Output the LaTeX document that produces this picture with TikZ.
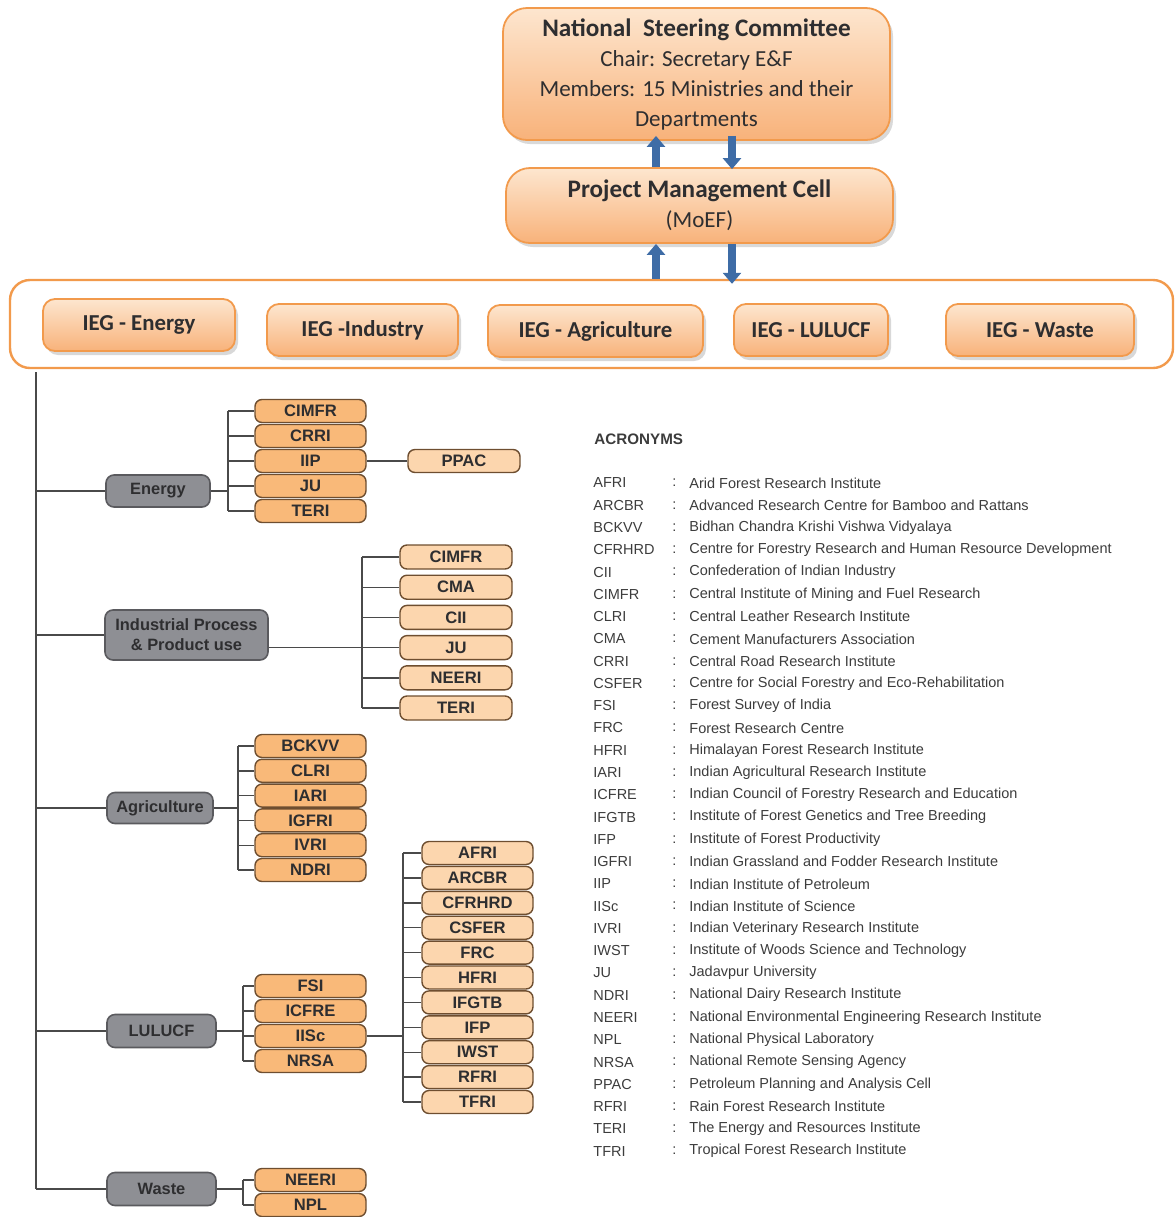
\documentclass[tikz,border=0pt]{standalone}
\usepackage{fontspec}
\setmainfont{Liberation Sans}
\newfontfamily\calibrifont{Carlito}
\usetikzlibrary{positioning,shadows,arrows.meta}
\definecolor{peachtop}{HTML}{FDE6CF}
\definecolor{peachbot}{HTML}{F8B27A}
\definecolor{orangeline}{HTML}{F29A4C}
\definecolor{flowblue}{HTML}{3E6CA6}
\definecolor{groupgray}{HTML}{8E8F94}
\definecolor{groupline}{HTML}{5A5A5E}
\definecolor{grouptext}{HTML}{2E2E30}
\definecolor{instorange}{HTML}{F9B979}
\definecolor{instpeach}{HTML}{FCD6AE}
\definecolor{instline}{HTML}{6E4E30}
\definecolor{linkgray}{HTML}{4A4A4A}
\definecolor{acrtext}{HTML}{3C3C3C}
\newcommand{\headline}[1]{{\bfseries\fontsize{12.6}{15}\selectfont #1}}
\tikzset{
  topbox/.style={draw=orangeline, line width=0.9pt, rounded corners=12pt,
    top color=peachtop, bottom color=peachbot,
    drop shadow={opacity=0.3,shadow xshift=1.5pt,shadow yshift=-2pt},
    align=center, inner sep=0pt, text=grouptext,
    font=\calibrifont\fontsize{11.5}{15}\selectfont},
  iegbox/.style={topbox, rounded corners=6pt, minimum height=26pt,
    font=\calibrifont\bfseries\fontsize{11.4}{12}\selectfont},
  groupbox/.style={draw=groupline, line width=0.8pt, fill=groupgray,
    rounded corners=4pt, text=grouptext, align=center, inner sep=0pt,
    font=\bfseries\fontsize{8.2}{10}\selectfont},
  instbox/.style={draw=instline, line width=0.7pt, fill=instorange,
    rounded corners=3.5pt, minimum width=55.5pt, minimum height=11.5pt,
    inner sep=0pt, text=grouptext, font=\bfseries\fontsize{8.3}{9}\selectfont},
  instlight/.style={instbox, fill=instpeach},
  link/.style={draw=linkgray, line width=0.7pt},
  flowarrow/.style={draw=flowblue, line width=3.6pt,
    -{Triangle[width=9pt,length=5.5pt]}},
  acrentry/.style={anchor=west, inner sep=0pt, text=acrtext,
    font=\fontsize{7.25}{8}\selectfont}
}
\begin{document}
\begin{tikzpicture}[x=0.5pt,y=-0.5pt]
  \useasboundingbox (0,0) rectangle (1175,1217);
  % top of the hierarchy
  \node[topbox, minimum width=193.5pt, minimum height=66pt] (nsc) at (696.5,74)
    {\headline{National\ \ Steering Committee}\\Chair: Secretary E\&F\\
     Members: 15 Ministries and their\\Departments};
  \node[topbox, minimum width=193.5pt, minimum height=37.5pt] (pmc) at (699.5,205.5)
    {\headline{Project Management Cell}\\(MoEF)};
  \node[draw=orangeline, line width=1.2pt, rounded corners=10pt, fill=white,
    minimum width=581.5pt, minimum height=44pt] (iegrow) at (591.5,324) {};
  \node[iegbox, minimum width=96pt] (iegEnergy) at (139,325) {IEG - Energy};
  \node[iegbox, minimum width=95.5pt] (iegIndustry) at (362.5,330) {IEG -Industry};
  \node[iegbox, minimum width=107.5pt] (iegAgri) at (595.5,331) {IEG - Agriculture};
  \node[iegbox, minimum width=77pt] (iegLulucf) at (811,330) {IEG - LULUCF};
  \node[iegbox, minimum width=94pt] (iegWaste) at (1040,330) {IEG - Waste};
  \coordinate (upx) at (656,0);
  \coordinate (downx) at (732,0);
  \draw[flowarrow] (pmc.north -| upx) -- ([yshift=2.5pt]nsc.south -| upx);
  \draw[flowarrow] ([yshift=2.5pt]nsc.south -| downx) -- ([yshift=-1pt]pmc.north -| downx);
  \draw[flowarrow] (iegrow.north -| upx) -- (pmc.south -| upx);
  \draw[flowarrow] (pmc.south -| downx) -- ([yshift=-2.5pt]iegrow.north -| downx);

  % sector groups
  \node[groupbox, minimum width=52pt, minimum height=16pt] (gEnergy) at (158,491) {Energy};
  \node[groupbox, minimum width=81.5pt, minimum height=25pt] (gIndustry) at (186.5,635)
    {Industrial Process\\\&\ Product use};
  \node[groupbox, minimum width=53pt, minimum height=15.5pt] (gAgri) at (160,808) {Agriculture};
  \node[groupbox, minimum width=54.5pt, minimum height=16.5pt] (gLulucf) at (161.5,1031) {LULUCF};
  \node[groupbox, minimum width=54.5pt, minimum height=16.5pt] (gWaste) at (161.5,1189) {Waste};
  \coordinate (trunk) at (36,372);
  \draw[link, line width=0.9pt] (trunk) -- (trunk |- gWaste);
  \foreach \g in {gEnergy,gIndustry,gAgri,gLulucf,gWaste}
    \draw[link] (trunk |- \g) -- (\g.west);

  % energy institutes
  \foreach \lbl [count=\i] in {CIMFR,CRRI,IIP,JU,TERI}
    \node[instbox] (en\i) at (310.5,{411+(\i-1)*25}) {\lbl};
  \coordinate (enbus) at (228,0);
  \draw[link] (enbus |- en1) -- (enbus |- en5);
  \foreach \i in {1,...,5} \draw[link] (enbus |- en\i) -- (en\i.west);
  \draw[link] (gEnergy.east) -- (enbus |- gEnergy);
  \node[instlight, minimum width=56pt] (ppac) at (464,461) {PPAC};
  \draw[link] (en3.east) -- (ppac.west);

  % industry institutes
  \foreach \lbl [count=\i] in {CIMFR,CMA,CII,JU,NEERI,TERI}
    \node[instlight, minimum width=56pt, minimum height=12pt] (in\i) at (456,{557+(\i-1)*30.2}) {\lbl};
  \coordinate (inbus) at (362,0);
  \draw[link] (inbus |- in1) -- (inbus |- in6);
  \foreach \i in {1,...,6} \draw[link] (inbus |- in\i) -- (in\i.west);
  \draw[link] (gIndustry.east |- in4) -- (in4.west);

  % agriculture institutes
  \foreach \lbl [count=\i] in {BCKVV,CLRI,IARI,IGFRI,IVRI,NDRI}
    \node[instbox] (ag\i) at (310.5,{746+(\i-1)*24.8}) {\lbl};
  \coordinate (agbus) at (238,0);
  \draw[link] (agbus |- ag1) -- (agbus |- ag6);
  \foreach \i in {1,...,6} \draw[link] (agbus |- ag\i) -- (ag\i.west);
  \draw[link] (gAgri.east) -- (agbus |- gAgri);

  % LULUCF institutes
  \foreach \lbl [count=\i] in {FSI,ICFRE,IISc,NRSA}
    \node[instbox] (lu\i) at (310.5,{986+(\i-1)*25}) {\lbl};
  \coordinate (lubus) at (243,0);
  \draw[link] (lubus |- lu1) -- (lubus |- lu4);
  \foreach \i in {1,...,4} \draw[link] (lubus |- lu\i) -- (lu\i.west);
  \draw[link] (gLulucf.east) -- (lubus |- gLulucf);
  \foreach \lbl [count=\i] in {AFRI,ARCBR,CFRHRD,CSFER,FRC,HFRI,IFGTB,IFP,IWST,RFRI,TFRI}
    \node[instlight] (fo\i) at (477.5,{853+(\i-1)*24.9}) {\lbl};
  \coordinate (fobus) at (403,0);
  \draw[link] (fobus |- fo1) -- (fobus |- fo11);
  \foreach \i in {1,...,11} \draw[link] (fobus |- fo\i) -- (fo\i.west);
  \draw[link] (lu3.east) -- (fobus |- lu3);

  % waste institutes
  \foreach \lbl [count=\i] in {NEERI,NPL}
    \node[instbox] (wa\i) at (310.5,{1180+(\i-1)*25}) {\lbl};
  \coordinate (wabus) at (243,0);
  \draw[link] (wabus |- wa1) -- (wabus |- wa2);
  \foreach \i in {1,2} \draw[link] (wabus |- wa\i) -- (wa\i.west);
  \draw[link] (gWaste.east) -- (wabus |- gWaste);

  % acronyms
  \node[acrentry, font=\bfseries\fontsize{7.6}{8}\selectfont] (acrhead) at (594,439) {ACRONYMS};
  \foreach \abbr/\desc [count=\i] in {
      AFRI/Arid Forest Research Institute,
      ARCBR/Advanced Research Centre for Bamboo and Rattans,
      BCKVV/Bidhan Chandra Krishi Vishwa Vidyalaya,
      CFRHRD/Centre for Forestry Research and Human Resource Development,
      CII/Confederation of Indian Industry,
      CIMFR/Central Institute of Mining and Fuel Research,
      CLRI/Central Leather Research Institute,
      CMA/Cement Manufacturers Association,
      CRRI/Central Road Research Institute,
      CSFER/Centre for Social Forestry and Eco-Rehabilitation,
      FSI/Forest Survey of India,
      FRC/Forest Research Centre,
      HFRI/Himalayan Forest Research Institute,
      IARI/Indian Agricultural Research Institute,
      ICFRE/Indian Council of Forestry Research and Education,
      IFGTB/Institute of Forest Genetics and Tree Breeding,
      IFP/Institute of Forest Productivity,
      IGFRI/Indian Grassland and Fodder Research Institute,
      IIP/Indian Institute of Petroleum,
      IISc/Indian Institute of Science,
      IVRI/Indian Veterinary Research Institute,
      IWST/Institute of Woods Science and Technology,
      JU/Jadavpur University,
      NDRI/National Dairy Research Institute,
      NEERI/National Environmental Engineering Research Institute,
      NPL/National Physical Laboratory,
      NRSA/National Remote Sensing Agency,
      PPAC/Petroleum Planning and Analysis Cell,
      RFRI/Rain Forest Research Institute,
      TERI/The Energy and Resources Institute,
      TFRI/Tropical Forest Research Institute} {
    \node[acrentry] (ab\i) at (593,{483+(\i-1)*22.27}) {\abbr};
    \node[acrentry] (co\i) at (672,{483+(\i-1)*22.27}) {:};
    \node[acrentry] (ds\i) at (689,{483+(\i-1)*22.27}) {\desc};
  }
\end{tikzpicture}
\end{document}
